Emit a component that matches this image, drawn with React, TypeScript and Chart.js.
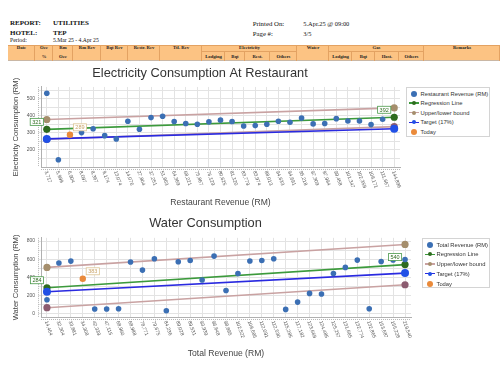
import React, { useEffect, useRef } from 'react';
import { Chart, registerables } from 'chart.js';
Chart.register(...registerables);

const SANS = '"Liberation Sans", Arial, sans-serif';
const SERIF = '"Liberation Serif", "Times New Roman", serif';

// ---------- Electricity data ----------
const elecLabels = ['3,717', '5,999', '6,904', '8,097', '8,367', '9,174', '13,074', '14,076', '27,804', '37,251', '51,863', '64,369', '68,221', '75,867', '76,129', '80,625', '81,120', '83,779', '83,974', '88,013', '94,633', '94,691', '95,218', '97,309', '97,994', '99,458', '101,347', '102,359', '108,171', '111,667', '144,896'];
const elecValues: (number | null)[] = [533, 143, null, 302, 325, 284, 265, 369, 322, 390, 398, 367, 355, 351, 365, 375, 367, 341, 343, 351, 369, 363, 388, 353, 355, 384, 370, 370, 349, 380, null];
const elecTodayIndex = 2;
const elecToday = 289;
const elecRegression = [321, 392];
const elecUpper = [379, 447];
const elecLower = [263, 337];
const elecTarget = [265, 325];
const elecYTicks = [200, 300, 400, 500];
const elecYRange = [100, 570];

// ---------- Water data ----------
const waterLabels = ['14,464', '32,304', '33,881', '34,308', '42,339', '47,115', '68,960', '68,988', '78,771', '79,675', '84,236', '89,028', '89,531', '93,939', '96,648', '98,895', '102,522', '108,685', '112,091', '112,530', '115,285', '117,182', '123,669', '124,485', '125,257', '131,665', '132,774', '132,865', '153,687', '155,228', '219,540'];
const waterValues: (number | null)[] = [151, 557, 579, null, 48, 48, 52, 568, 479, 605, 29, 571, 586, 369, 634, 254, 442, 580, 586, 605, 44, 125, 221, 214, 442, 509, 590, 52, 575, 592, 597];
const waterTodayIndex = 3;
const waterToday = 383;
const waterRegression = [284, 540];
const waterUpper = [509, 763];
const waterLower = [63, 317];
const waterTarget = [240, 446];
const waterYTicks = [0, 200, 400, 600, 800];
const waterYRange = [-40, 836];

// ---------- Header texts ----------
const headerLeft = [['REPORT:', 'UTILITIES'], ['HOTEL:', 'TEP'], ['Period:', '5.Mar 25 - 4.Apr 25']];
const headerRight = [['Printed On:', '5.Apr.25 @ 09:00'], ['Page #:', '3/5']];
const tableCols = [
  { t: 'Date' }, { t: 'Occ', b: '%' }, { t: 'Rm', b: 'Occ' }, { t: 'Rm Rev' }, { t: 'Bqt Rev' },
  { t: 'Restr. Rev' }, { t: 'Ttl. Rev' }, { t: 'Electricity', subs: ['Lodging', 'Bqt', 'Rest.', 'Others'] },
  { t: 'Water' }, { t: 'Gas', subs: ['Lodging', 'Bqt', 'Host.', 'Others'] }, { t: 'Remarks' },
];

const C = {
  data: '#3b6fb4', regLine: '#3c9a3c', regPt: '#2e6b1e', bandLine: '#c9a2a2',
  upPt: '#a58e6c', lowPt: '#8c5c70', tgtLine: '#2a2ae0', tgtPt: '#2150e6', today: '#ea8a3a',
  grid: '#e3e3e3', axis: '#b0b0b0',
};

const ends = (n: number, pair: number[]) => { const a: (number | null)[] = new Array(n).fill(null); a[0] = pair[0]; a[n - 1] = pair[1]; return a; };
const only = (n: number, i: number, v: number) => { const a: (number | null)[] = new Array(n).fill(null); a[i] = v; return a; };

const customDraw = {
  id: 'customDraw',
  afterDraw(chart: any, _a: any, opts: any) {
    const { ctx } = chart;
    const xs = chart.scales.x;
    const ys = chart.scales.y;
    ctx.save();
    // dotted minor ticks along axes
    ctx.strokeStyle = '#b8b8b8';
    ctx.lineWidth = 1;
    ctx.setLineDash([1, 1]);
    ctx.beginPath();
    ctx.moveTo(xs.left, xs.top + 2.5); ctx.lineTo(xs.right, xs.top + 2.5);
    ctx.moveTo(ys.right - 2.5, ys.top); ctx.lineTo(ys.right - 2.5, ys.bottom);
    ctx.stroke();
    ctx.setLineDash([]);
    // rotated category labels
    ctx.font = `5px ${SANS}`;
    ctx.fillStyle = '#555';
    ctx.textAlign = 'left';
    ctx.textBaseline = 'middle';
    (opts.labels as string[]).forEach((lab, i) => {
      const x = xs.getPixelForValue(i);
      ctx.save();
      ctx.translate(x - 1, xs.top + 4);
      ctx.rotate((70 * Math.PI) / 180);
      ctx.fillText(lab, 0, 0);
      ctx.restore();
    });
    // value boxes
    ctx.font = `5.5px ${SANS}`;
    ctx.textAlign = 'center';
    (opts.boxes as any[]).forEach((b) => {
      const cx = xs.getPixelForValue(b.index) + b.dx;
      const cy = ys.getPixelForValue(b.value) + b.dy;
      const w = ctx.measureText(b.text).width + 4;
      const h = 7;
      ctx.fillStyle = '#fff';
      ctx.fillRect(cx - w / 2, cy - h / 2, w, h);
      ctx.strokeStyle = b.border;
      ctx.lineWidth = 0.8;
      ctx.strokeRect(cx - w / 2, cy - h / 2, w, h);
      ctx.fillStyle = b.color;
      ctx.fillText(b.text, cx, cy + 0.3);
    });
    ctx.restore();
  },
};

function makeConfig(p: any): any {
  const n = p.labels.length;
  const half = (p.yTicks[1] - p.yTicks[0]) / 2;
  let v0 = p.yTicks[0];
  while (v0 - half > p.yRange[0]) v0 -= half;
  const gridVals: number[] = [];
  for (let v = v0; v <= p.yRange[1]; v += half) gridVals.push(v);
  const lineDs = (data: any, lineColor: string, ptColor: string, r: number) => ({
    type: 'line', data, spanGaps: true, borderColor: lineColor, borderWidth: 1.6, tension: 0,
    pointRadius: r, pointBackgroundColor: ptColor, pointBorderColor: ptColor, pointBorderWidth: 0,
  });
  return {
    type: 'line',
    data: {
      labels: p.labels,
      datasets: [
        { type: 'line', data: p.values, showLine: false, pointRadius: 2.8, pointBackgroundColor: C.data, pointBorderColor: C.data, pointBorderWidth: 0 },
        { type: 'line', data: only(n, p.todayIndex, p.today), showLine: false, pointRadius: 3.2, pointBackgroundColor: C.today, pointBorderColor: C.today, pointBorderWidth: 0 },
        lineDs(ends(n, p.target), C.tgtLine, C.tgtPt, 4),
        lineDs(ends(n, p.regression), C.regLine, C.regPt, 3.6),
        lineDs(ends(n, p.upper), C.bandLine, C.upPt, 3.6),
        lineDs(ends(n, p.lower), C.bandLine, C.lowPt, 3.6),
      ],
    },
    options: {
      responsive: false,
      animation: false,
      events: [],
      layout: { padding: { left: 0, right: p.padRight, top: 0, bottom: 0 } },
      plugins: {
        legend: { display: false },
        tooltip: { enabled: false },
        title: {
          display: true, text: p.title, color: '#333',
          font: { family: SANS, size: 12.8, weight: 'normal' },
          padding: p.titlePadding,
        },
        customDraw: {
          labels: p.labels,
          boxes: [
            { index: 0, value: p.regression[0], text: String(p.regression[0]), dx: -10, dy: -7.5, border: '#4a9a4a', color: '#2e6b1e' },
            { index: n - 1, value: p.regression[1], text: String(p.regression[1]), dx: -10, dy: -7.5, border: '#4a9a4a', color: '#2e6b1e' },
            { index: p.todayIndex, value: p.today, text: String(p.today), dx: 10, dy: -7.5, border: '#dcc493', color: '#c9a46a' },
          ],
        },
      },
      scales: {
        x: {
          type: 'category', offset: true,
          ticks: { display: false },
          grid: { color: C.grid, tickLength: 0, offset: false },
          border: { color: C.axis },
          title: { display: true, text: p.xTitle, color: '#444', font: { family: SANS, size: 8.6 }, padding: { top: 0, bottom: p.xTitleBottom } },
          afterFit: (s: any) => { s.height = 45; },
        },
        y: {
          min: p.yRange[0], max: p.yRange[1],
          afterBuildTicks: (s: any) => { s.ticks = gridVals.map((v) => ({ value: v })); },
          ticks: {
            callback: (v: any) => (p.yTicks.includes(v) ? String(v) : ''),
            font: { family: SANS, size: 5 }, color: '#555', padding: 3,
          },
          grid: { color: C.grid, tickLength: 3 },
          border: { color: C.axis },
          title: { display: true, text: p.yTitle, color: '#444', font: { family: SANS, size: 7.6 }, padding: { top: 11, bottom: 0 } },
          afterFit: (s: any) => { s.width = 41; },
        },
      },
    },
    plugins: [customDraw],
  };
}

function ChartCanvas({ config, top, height }: any) {
  const ref = useRef<HTMLCanvasElement>(null);
  useEffect(() => {
    const chart = new Chart(ref.current as HTMLCanvasElement, config);
    return () => chart.destroy();
  }, []);
  return <canvas ref={ref} width={500} height={height} style={{ position: 'absolute', left: 0, top, width: 500, height }} />;
}

function Legend({ items, left, top, width, height, step }: any) {
  return (
    <div style={{ position: 'absolute', left, top, width, height, border: '1px solid #d4d4d4', background: '#fff', boxSizing: 'border-box', fontFamily: SANS, fontSize: 5.8, color: '#333' }}>
      {items.map((it: any, i: number) => {
        const cy = 5.5 + i * step;
        return (
          <div key={i} style={{ position: 'absolute', left: 0, top: cy - 4, height: 8, width: '100%' }}>
            {it.kind === 'dot' ? (
              <div style={{ position: 'absolute', left: 3.5, top: 1, width: 6, height: 6, borderRadius: '50%', background: it.color }} />
            ) : (
              <>
                <div style={{ position: 'absolute', left: 1.5, top: 3.3, width: 10, height: 1.4, background: it.line }} />
                <div style={{ position: 'absolute', left: 4.5, top: 2, width: 4, height: 4, borderRadius: '50%', background: it.color }} />
              </>
            )}
            <div style={{ position: 'absolute', left: 13.5, top: 0, lineHeight: '8px', whiteSpace: 'nowrap' }}>{it.label}</div>
          </div>
        );
      })}
    </div>
  );
}

const legendItems = (first: string) => [
  { kind: 'dot', label: first, color: C.data },
  { kind: 'line', label: 'Regression Line', color: C.regPt, line: C.regLine },
  { kind: 'line', label: 'Upper/lower bound', color: C.upPt, line: C.bandLine },
  { kind: 'line', label: 'Target (17%)', color: C.tgtPt, line: C.tgtLine },
  { kind: 'dot', label: 'Today', color: C.today },
];

function Txt({ x, y, size, bold, children }: any) {
  return (
    <div style={{ position: 'absolute', left: x, top: y - size * 0.6, fontSize: size, lineHeight: `${size * 1.2}px`, fontWeight: bold ? 'bold' : 'normal', fontFamily: SERIF, whiteSpace: 'nowrap', color: '#111' }}>{children}</div>
  );
}

const colEdges = [8, 35, 53, 73, 101, 128, 160, 202, 297, 329, 424, 500];
const subEdges: Record<number, number[]> = { 7: [202, 225, 245, 270, 297], 9: [329, 352, 375, 399, 424] };

function HeaderTable() {
  const top = 45, bottom = 61, mid = 50.7;
  const border = '#e3a262';
  const cells: any[] = [];
  tableCols.forEach((col: any, i) => {
    const x0 = colEdges[i], x1 = colEdges[i + 1];
    cells.push(<div key={'c' + i} style={{ position: 'absolute', left: x0, top, width: x1 - x0, height: bottom - top, borderRight: `1px solid ${border}`, boxSizing: 'border-box' }} />);
    const textStyle = (cx: number, cy: number): any => ({ position: 'absolute', left: cx - 30, width: 60, top: cy - 3, lineHeight: '6px', textAlign: 'center', fontSize: 4.7, fontWeight: 'bold', fontFamily: SERIF, color: '#222' });
    cells.push(<div key={'t' + i} style={textStyle((x0 + x1) / 2, 48.3)}>{col.t}</div>);
    if (col.b) cells.push(<div key={'b' + i} style={textStyle((x0 + x1) / 2, 56.7)}>{col.b}</div>);
    if (col.subs) {
      const e = subEdges[i];
      cells.push(<div key={'m' + i} style={{ position: 'absolute', left: x0, top: mid, width: x1 - x0, height: 0, borderTop: `1px solid ${border}` }} />);
      col.subs.forEach((s: string, j: number) => {
        cells.push(<div key={'sv' + i + j} style={{ position: 'absolute', left: e[j], top: mid, width: e[j + 1] - e[j], height: bottom - mid, borderRight: `1px solid ${border}`, boxSizing: 'border-box' }} />);
        cells.push(<div key={'st' + i + j} style={textStyle((e[j] + e[j + 1]) / 2, 56.7)}>{s}</div>);
      });
    }
  });
  return (
    <>
      <div style={{ position: 'absolute', left: 8, top, width: 492, height: bottom - top, background: '#fcc383', borderTop: `1px solid ${border}`, borderBottom: '1px solid #c9b7a5', boxSizing: 'border-box' }} />
      {cells}
    </>
  );
}

export default function App() {
  useEffect(() => { document.body.style.margin = '0'; }, []);
  const elecConfig = makeConfig({
    labels: elecLabels, values: elecValues, todayIndex: elecTodayIndex, today: elecToday,
    regression: elecRegression, upper: elecUpper, lower: elecLower, target: elecTarget,
    yTicks: elecYTicks, yRange: elecYRange,
    title: 'Electricity Consumption At Restaurant', yTitle: 'Electricity Consumption (RM)', xTitle: 'Restaurant Revenue (RM)',
    padRight: 100, titlePadding: { top: 4, bottom: 5.6 }, xTitleBottom: 4,
  });
  const waterConfig = makeConfig({
    labels: waterLabels, values: waterValues, todayIndex: waterTodayIndex, today: waterToday,
    regression: waterRegression, upper: waterUpper, lower: waterLower, target: waterTarget,
    yTicks: waterYTicks, yRange: waterYRange,
    title: 'Water Consumption', yTitle: 'Water Consumption (RM)', xTitle: 'Total Revenue (RM)',
    padRight: 89, titlePadding: { top: 3.5, bottom: 7 }, xTitleBottom: 3,
  });
  return (
    <div style={{ position: 'relative', width: 500, height: 380, background: '#fff', overflow: 'hidden' }}>
      {headerLeft.map((r, i) => (
        <React.Fragment key={'hl' + i}>
          <Txt x={10} y={[23.3, 32.7, 40.7][i]} size={i < 2 ? 7 : 5.8} bold={i < 2}>{r[0]}</Txt>
          <Txt x={53} y={[23.3, 32.7, 40.7][i]} size={i < 2 ? 7 : 5.7} bold={i < 2}>{r[1]}</Txt>
        </React.Fragment>
      ))}
      {headerRight.map((r, i) => (
        <React.Fragment key={'hr' + i}>
          <Txt x={252.7} y={[24, 34][i]} size={6.8}>{r[0]}</Txt>
          <Txt x={303.3} y={[24, 34][i]} size={6.4}>{r[1]}</Txt>
        </React.Fragment>
      ))}
      <HeaderTable />
      <ChartCanvas config={elecConfig} top={62} height={150} />
      <ChartCanvas config={waterConfig} top={212} height={150} />
      <Legend items={legendItems('Restaurant Revenue (RM)')} left={406} top={87} width={84} height={50} step={9.65} />
      <Legend items={legendItems('Total Revenue (RM)')} left={422} top={238} width={68} height={50} step={9.75} />
    </div>
  );
}
